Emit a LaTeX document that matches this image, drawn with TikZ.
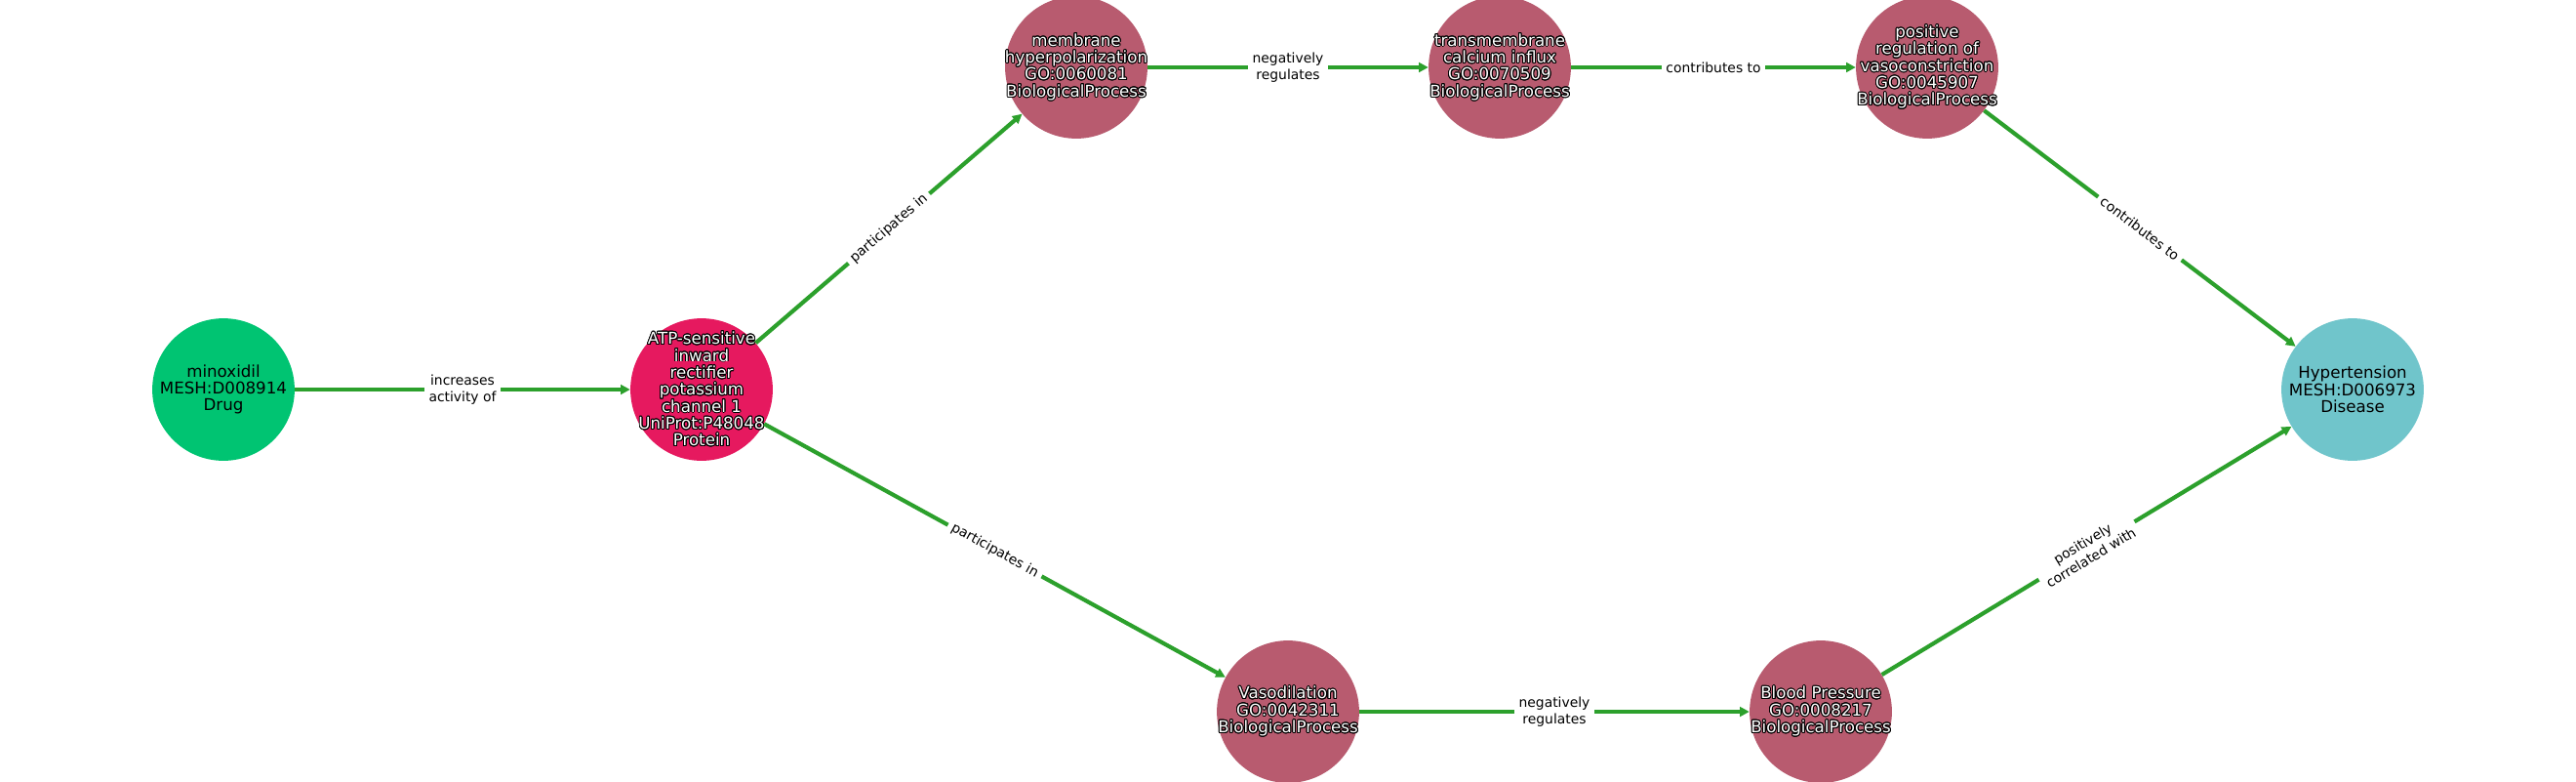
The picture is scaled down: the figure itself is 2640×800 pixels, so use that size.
\documentclass[tikz,border=0pt]{standalone}
\usepackage{fontspec}
\setmainfont{DejaVu Sans}
\usepackage[copies]{contour}
\contourlength{0.7pt}
\usetikzlibrary{arrows.meta}
\definecolor{cDrug}{HTML}{00C472}
\definecolor{cProt}{HTML}{E6195F}
\definecolor{cProc}{HTML}{B85B6F}
\definecolor{cDis}{HTML}{70C5CB}
\definecolor{cEdge}{HTML}{2CA02C}
\newcommand{\wt}[1]{{\color{white}\contour{black}{#1}}}
\tikzset{
  ent/.style={circle, draw=none, inner sep=0pt, minimum size=105pt},
  drugnode/.style={ent, fill=cDrug},
  protnode/.style={ent, fill=cProt},
  procnode/.style={ent, fill=cProc},
  disnode/.style={ent, fill=cDis},
  ntext/.style={inner sep=0pt, align=center, text=black,
    font={\fontsize{12pt}{12.5pt}\selectfont}},
  edge/.style={draw=cEdge, line width=3pt, -{Triangle[length=7pt,width=7pt]}},
  elabel/.style={fill=white, inner sep=3.5pt, align=center, text=black,
    font={\fontsize{10pt}{12pt}\selectfont}}
}
\begin{document}
\begin{tikzpicture}[x=0.72pt,y=-0.72pt]
\useasboundingbox (0,0) rectangle (2640,800);
\fill[white] (0,0) rectangle (2640,800);
\clip (0,0) rectangle (2640,800);

\node[drugnode] (mino) at (229,399) {};
\node[protnode] (atp) at (719,399) {};
\node[procnode] (memb) at (1103,69) {};
\node[procnode] (trans) at (1537,69) {};
\node[procnode] (posreg) at (1975,69) {};
\node[disnode] (hyper) at (2411,399) {};
\node[procnode] (vaso) at (1320,729) {};
\node[procnode] (bp) at (1866,729) {};

\node[ntext] (minoT) at (mino) {minoxidil\\MESH:D008914\\Drug};
\node[ntext] (atpT) at (atp) {\wt{ATP-sensitive}\\\wt{inward}\\\wt{rectifier}\\\wt{potassium}\\\wt{channel 1}\\\wt{UniProt:P48048}\\\wt{Protein}};
\node[ntext] (membT) at (memb) {\wt{membrane}\\\wt{hyperpolarization}\\\wt{GO:0060081}\\\wt{BiologicalProcess}};
\node[ntext] (transT) at (trans) {\wt{transmembrane}\\\wt{calcium influx}\\\wt{GO:0070509}\\\wt{BiologicalProcess}};
\node[ntext] (posregT) at (posreg) {\wt{positive}\\\wt{regulation of}\\\wt{vasoconstriction}\\\wt{GO:0045907}\\\wt{BiologicalProcess}};
\node[ntext] (hyperT) at (hyper) {Hypertension\\MESH:D006973\\Disease};
\node[ntext] (vasoT) at (vaso) {\wt{Vasodilation}\\\wt{GO:0042311}\\\wt{BiologicalProcess}};
\node[ntext] (bpT) at (bp) {\wt{Blood Pressure}\\\wt{GO:0008217}\\\wt{BiologicalProcess}};

\draw[edge] (mino) -- node[elabel] {increases\\activity of} (atp);
\draw[edge] (atp) -- node[elabel, sloped] {participates in} (memb);
\draw[edge] (atp) -- node[elabel, sloped] {participates in} (vaso);
\draw[edge] (memb) -- node[elabel] {negatively\\regulates} (trans);
\draw[edge] (trans) -- node[elabel] {contributes to} (posreg);
\draw[edge] (posreg) -- node[elabel, sloped] {contributes to} (hyper);
\draw[edge] (vaso) -- node[elabel] {negatively\\regulates} (bp);
\draw[edge] (bp) -- node[elabel, sloped] {positively\\correlated with} (hyper);
\end{tikzpicture}
\end{document}
